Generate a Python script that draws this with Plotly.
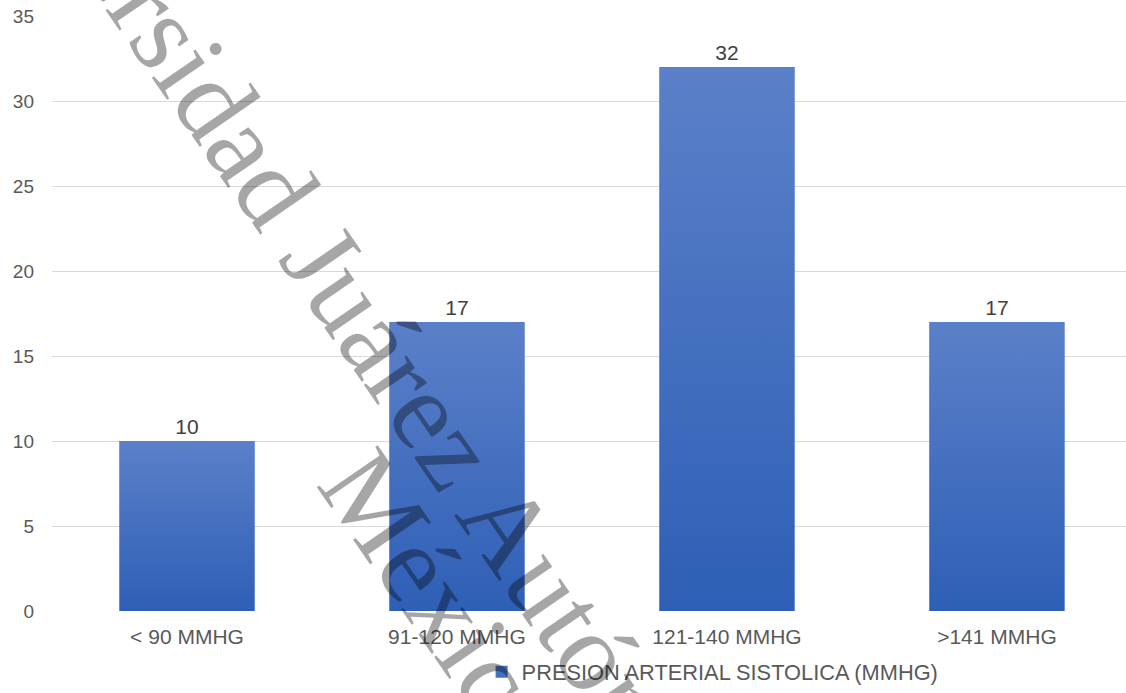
import plotly.graph_objects as go

categories = ["< 90 MMHG", "91-120 MMHG", "121-140 MMHG", ">141 MMHG"]
values = [10, 17, 32, 17]
series_name = "PRESION ARTERIAL SISTOLICA (MMHG)"
y_ticks = [0, 5, 10, 15, 20, 25, 30, 35]

TOP = "#5B80C9"
BOTTOM = "#2E5FB6"
MID = "#4170C2"
HALF = 0.25

fig = go.Figure()

fig.add_trace(go.Bar(
    x=list(range(len(categories))), y=values, name=series_name,
    width=2 * HALF, marker=dict(color=MID, line=dict(width=0)),
    text=values, textposition="outside", cliponaxis=False,
    textfont=dict(family="Liberation Sans", size=21, color="#404040"),
    showlegend=True,
))

# vertical gradient overlay for each bar, built from the same data
for i, v in enumerate(values):
    fig.add_trace(go.Scatter(
        x=[i - HALF, i - HALF, i + HALF, i + HALF, i - HALF],
        y=[0, v, v, 0, 0], mode="lines", fill="toself",
        line=dict(width=0, color="rgba(0,0,0,0)"),
        fillgradient=dict(type="vertical", colorscale=[[0, BOTTOM], [1, TOP]]),
        showlegend=False, hoverinfo="skip",
    ))

# watermark
wm_color = "rgba(0,0,0,0.35)"
fig.add_annotation(text="Universidad Juárez Autónoma de Tabasco", xref="paper", yref="paper",
                   x=0.4339, y=0.1185, xanchor="center", yanchor="middle", textangle=55.4,
                   showarrow=False, font=dict(family="Liberation Serif", size=113, color=wm_color))
fig.add_annotation(text="México", xref="paper", yref="paper",
                   x=0.3655, y=0.0105, xanchor="center", yanchor="middle", textangle=55.4,
                   showarrow=False, font=dict(family="Liberation Serif", size=113, color=wm_color))

fig.update_layout(
    width=1126, height=693,
    margin=dict(l=52, r=0, t=16, b=78),
    plot_bgcolor="white", paper_bgcolor="white",
    font=dict(family="Liberation Sans", color="#595959"),
    bargap=0.5,
    legend=dict(orientation="h", x=0.40, xanchor="left", y=-0.103, yanchor="middle",
                font=dict(size=21.8, color="#595959"), bgcolor="rgba(0,0,0,0)"),
    xaxis=dict(range=[-0.5, 3.478], tickmode="array", tickvals=list(range(len(categories))),
               ticktext=categories, showgrid=False, zeroline=False, showline=False,
               tickfont=dict(size=21, color="#595959"), ticklabelstandoff=11),
    yaxis=dict(range=[0, 35], tickvals=y_ticks, showgrid=True, gridcolor="#D9D9D9", gridwidth=1,
               zeroline=False, showline=False, tickfont=dict(size=19, color="#595959"),
               ticklabelstandoff=17),
)

fig.write_html("out.html")
